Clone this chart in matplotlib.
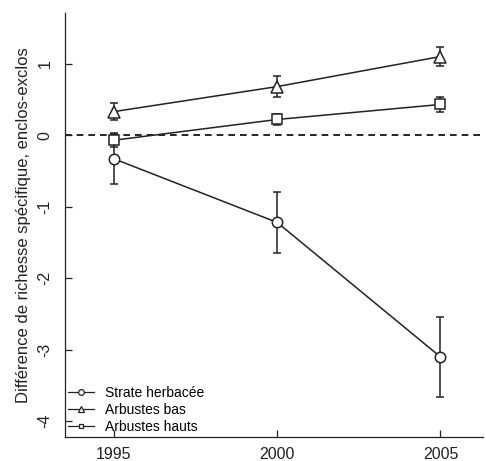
import matplotlib
matplotlib.use('Agg')
import matplotlib.pyplot as plt
import numpy as np

plt.rcParams['font.family'] = ['Liberation Sans', 'DejaVu Sans']

# Données (différence de richesse spécifique, enclos - exclos)
annees = [1995, 2000, 2005]
herbacee = [-0.33, -1.22, -3.10]
herbacee_err = [0.35, 0.42, 0.56]
arb_bas = [0.33, 0.68, 1.10]
arb_bas_err = [0.12, 0.15, 0.13]
arb_hauts = [-0.07, 0.22, 0.43]
arb_hauts_err = [0.10, 0.08, 0.11]
yticks = [1, 0, -1, -2, -3, -4]

fig = plt.figure(figsize=(4.86, 4.61), dpi=100)
ax = fig.add_axes([0.1337, 0.052, 0.860, 0.920])

series = [
    ('Strate herbacée', herbacee, herbacee_err, 'o', 7.5),
    ('Arbustes bas', arb_bas, arb_bas_err, '^', 8.5),
    ('Arbustes hauts', arb_hauts, arb_hauts_err, 's', 6.5),
]

ax.axhline(0, color='black', lw=1.2, ls=(0, (4, 3)), zorder=1)

handles = []
for nom, y, e, m, ms in series:
    ax.errorbar(annees, y, yerr=e, fmt='none', ecolor='#222222',
                elinewidth=1.1, capsize=3, capthick=1.1, zorder=2)
    ax.plot(annees, y, color='#222222', lw=1.1, zorder=3)
    ax.plot(annees, y, ls='none', marker=m, ms=ms, mfc='white',
            mec='#222222', mew=1.1, zorder=4)
    h, = ax.plot([], [], color='#222222', lw=0.9, marker=m, ms=ms * 0.55,
                 mfc='white', mec='#222222', mew=0.9, label=nom)
    handles.append(h)

ax.set_xlim(1993.5, 2006.3)
ax.set_ylim(-4.22, 1.71)
ax.set_xticks(annees)
ax.set_yticks(yticks)
ax.set_yticklabels([str(v) for v in yticks], rotation=90, va='center')
ax.tick_params(axis='both', direction='in', length=5, width=0.9,
               labelsize=11.5, colors='#222222')
ax.tick_params(axis='x', pad=7)
ax.tick_params(axis='y', pad=9)
for s in ['top', 'right']:
    ax.spines[s].set_visible(False)
for s in ['left', 'bottom']:
    ax.spines[s].set_linewidth(0.9)
    ax.spines[s].set_color('#222222')

ax.set_ylabel('Différence de richesse spécifique, enclos-exclos',
              fontsize=12, color='#222222', labelpad=5)

ax.legend(handles=handles, loc='lower left', frameon=False, fontsize=10,
          handlelength=1.9, handletextpad=0.8, labelspacing=0.22,
          borderaxespad=0.0, borderpad=0.2, bbox_to_anchor=(0.0, 0.0))

fig.savefig('out.png', dpi=100)
